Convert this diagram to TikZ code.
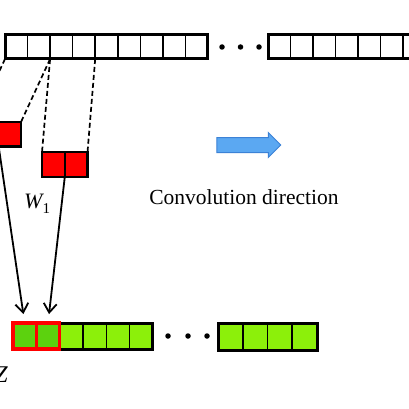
\documentclass[tikz,border=0pt]{standalone}
\usepackage{fontspec}
\setmainfont{Liberation Serif}
\usetikzlibrary{shapes.arrows,arrows.meta}
\definecolor{redc}{HTML}{FF0000}
\definecolor{greenl}{HTML}{8CF00A}
\definecolor{greend}{HTML}{5CD20E}
\definecolor{bluef}{HTML}{5BA8F2}
\definecolor{blued}{HTML}{3C82D6}
\begin{document}
\begin{tikzpicture}[x=1pt,y=-1pt,
  cell/.style={rectangle,draw=black,line width=1.6pt,minimum width=22.55pt,minimum height=24pt,inner sep=0pt,outer sep=0pt},
  frame/.style={draw=black,line width=3pt},
  redcell/.style={cell,fill=redc,minimum width=22.75pt,minimum height=24.5pt},
  gcell/.style={cell,fill=greenl,minimum width=23.33pt,minimum height=26pt},
  gdcell/.style={cell,fill=greend,draw=redc,line width=2.5pt,minimum width=23.33pt,minimum height=26pt},
  hcell/.style={cell,fill=greenl,minimum width=24.75pt,minimum height=27pt},
  dot/.style={circle,fill=black,inner sep=0pt,minimum size=5.5pt},
  dashln/.style={line width=1.7pt,dash pattern=on 5pt off 3pt},
  arr/.style={line width=1.8pt,-{Straight Barb[length=9pt,width=13pt,line width=1.8pt]},shorten >=9pt}
]
\useasboundingbox (0,0) rectangle (409,409);
\clip (0,0) rectangle (409,409);
\fill[white] (0,0) rectangle (409,409);
% top rows
\foreach \i in {1,...,9} \node[cell] (a\i) at ({5+22.55*(\i-0.5)},47) {};
\draw[frame] (a1.north west) rectangle (a9.south east);
\foreach \i in {1,...,7} \node[cell,minimum width=22.5pt] (b\i) at ({268+22.5*(\i-0.5)},47) {};
\draw[frame] (b1.north west) rectangle (b7.south east);
\node[dot] (d1) at (222,47) {};
\node[dot] (d2) at (240.5,47) {};
\node[dot] (d3) at (259,47) {};
% red kernels
\node[redcell] (k1) at (-12.75,134) {};
\node[redcell] (k2) at (9.75,134) {};
\draw[line width=2.5pt] (k1.north west) rectangle (k2.south east);
\node[redcell,minimum height=25pt] (m1) at (53.4,164.5) {};
\node[redcell,minimum height=25pt] (m2) at (76.15,164.5) {};
\draw[line width=2.5pt] (m1.north west) rectangle (m2.south east);
% dashed projections
\draw[dashln] (a1.south west) -- (k1.north west);
\draw[dashln] (a3.south west) -- (k2.north east);
\draw[dashln] (a3.south west) -- (m1.north west);
\draw[dashln] (a5.south west) -- (m2.north east);
% bottom rows
\node[gdcell] (g1) at ({13+23.33*0.5},336) {};
\node[gdcell] (g2) at ({13+23.33*1.5},336) {};
\foreach \i in {3,...,6} \node[gcell] (g\i) at ({13+23.33*(\i-0.5)},336) {};
\draw[frame] (g3.north west) rectangle (g6.south east);
\draw[draw=redc,line width=3.5pt] (g1.north west) rectangle (g2.south east);
\foreach \i in {1,...,4} \node[hcell] (h\i) at ({218+24.75*(\i-0.5)},336.5) {};
\draw[frame] (h1.north west) rectangle (h4.south east);
\node[dot] (e1) at (168,336) {};
\node[dot] (e2) at (188,336) {};
\node[dot] (e3) at (207,336) {};
% arrows
\draw[arr] (k1.south east) -- (g1.north);
\draw[arr] (m1.south east) -- (g2.north);
% labels
\node[font=\fontsize{22}{24}\selectfont,inner sep=0pt,anchor=base west] (w) at (24,208) {\itshape W\raisebox{-5pt}{\upshape\fontsize{15}{15}\selectfont 1}};
\node[font=\fontsize{24}{24}\selectfont\itshape,anchor=base east,inner sep=0pt] (z) at (8,382) {Z};
\node[single arrow,fill=bluef,draw=blued,line width=1pt,minimum height=64pt,inner sep=0pt,single arrow head extend=5pt,single arrow head indent=0pt] (dir) at (245,145) {\rule{0pt}{14pt}};
\node[font=\fontsize{21.5}{24}\selectfont,inner sep=0pt] (lab) at (244,197) {Convolution direction};
\end{tikzpicture}
\end{document}
